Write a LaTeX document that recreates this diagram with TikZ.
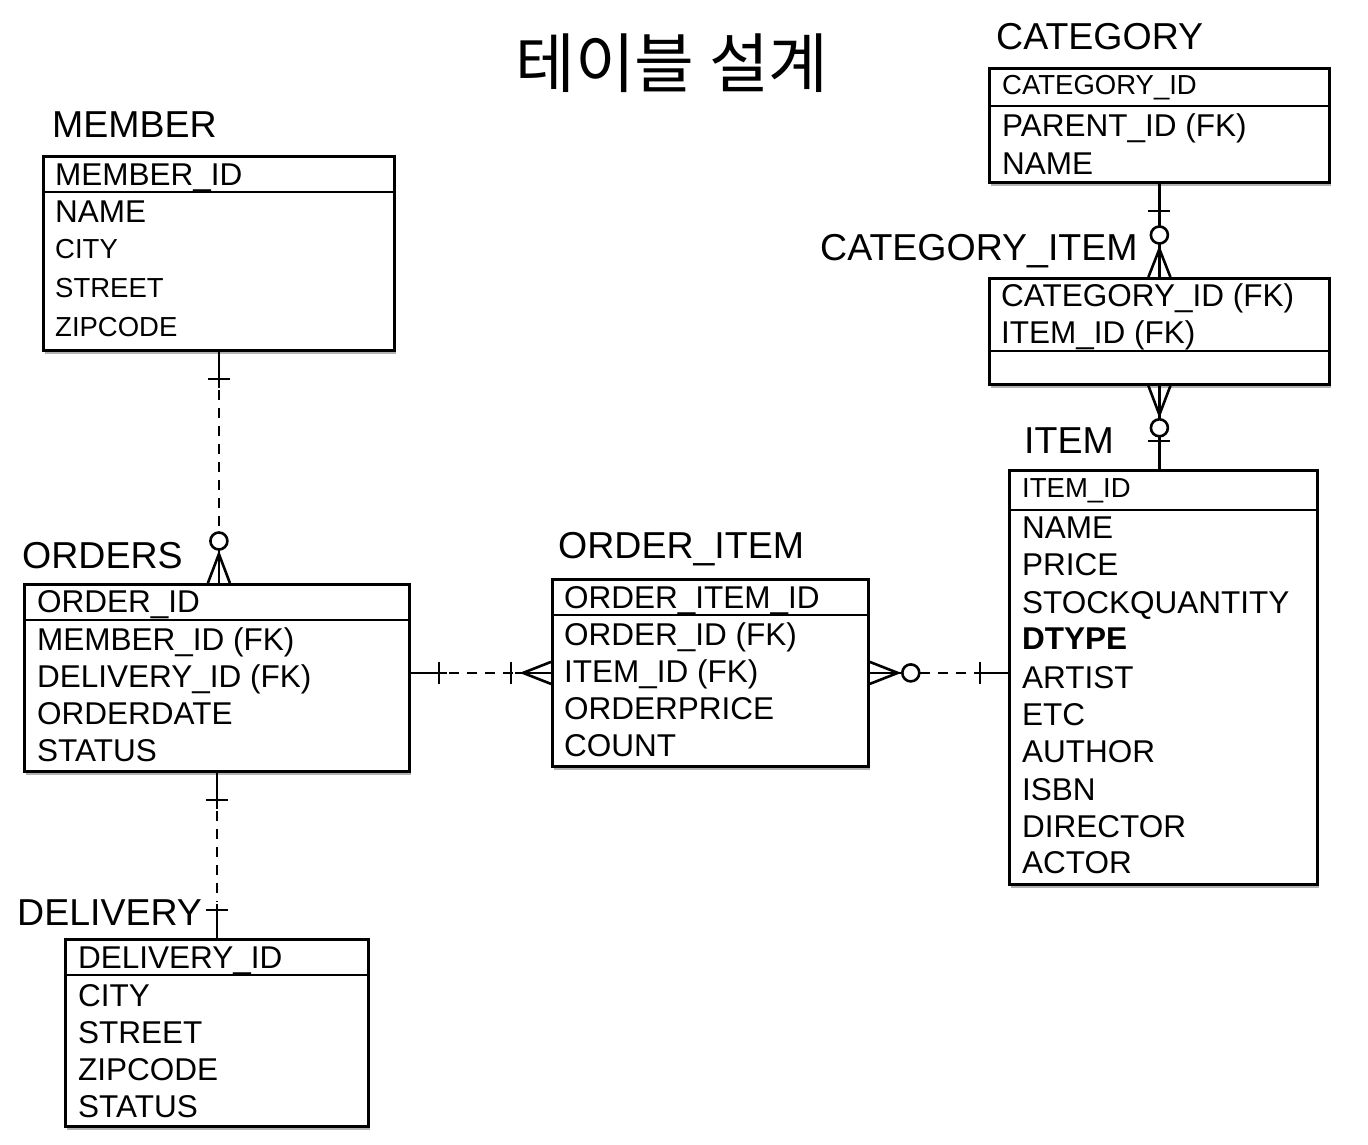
\documentclass[tikz,border=0pt]{standalone}
\usepackage{fontspec}
\setmainfont{Liberation Sans}
\newfontfamily\krfont{Noto Sans CJK KR}
\usepackage{tikz}
\usetikzlibrary{calc,shadows}

\newcommand{\headsize}{\fontsize{37.5}{45}\selectfont}
\newcommand{\fieldsize}{\fontsize{31.5}{38}\selectfont}
\newcommand{\smallsize}{\fontsize{27.5}{32}\selectfont}

\tikzset{
  tablebox/.style={draw, line width=2.8pt, fill=white, inner sep=0pt, anchor=north west,
    drop shadow={shadow xshift=2pt, shadow yshift=-3.5pt, opacity=0.5, fill=black!60}},
  tablename/.style={font=\headsize, anchor=base west, inner sep=0pt},
  field/.style={font=\fieldsize, anchor=base west, inner sep=0pt},
  smallfield/.style={font=\smallsize, anchor=base west, inner sep=0pt},
  divider/.style={line width=2.8pt},
  rel/.style={line width=2.6pt},
  reldash/.style={rel, dash pattern=on 10pt off 8pt},
  endcircle/.style={rel, fill=white},
}

\begin{document}
\begin{tikzpicture}[x=1pt, y=-1pt]
  \useasboundingbox (0,0) rectangle (1368,1145);

  % Title
  \node[font=\krfont\fontsize{65}{72}\selectfont, anchor=base, inner sep=0pt] (title) at (672,88) {테이블 설계};

  % MEMBER
  \node[tablename] (member-name) at (52,138) {MEMBER};
  \node[tablebox, minimum width=351, minimum height=194] (member) at (42,155) {};
  \draw[divider] ([yshift=-37pt]member.north west) -- ([yshift=-37pt]member.north east);
  \node[field] (member-id) at (55,185) {MEMBER\_ID};
  \node[field] (member-nm) at (55,222) {NAME};
  \node[smallfield] (member-city) at (55,258) {CITY};
  \node[smallfield] (member-st) at (55,297) {STREET};
  \node[smallfield] (member-zip) at (55,336) {ZIPCODE};

  % ORDERS
  \node[tablename] (orders-name) at (22,568) {ORDERS};
  \node[tablebox, minimum width=385, minimum height=187] (orders) at (23,583) {};
  \draw[divider] ([yshift=-37pt]orders.north west) -- ([yshift=-37pt]orders.north east);
  \node[field] (orders-id) at (37,612) {ORDER\_ID};
  \node[field] (orders-mem) at (37,650) {MEMBER\_ID (FK)};
  \node[field] (orders-del) at (37,687) {DELIVERY\_ID (FK)};
  \node[field] (orders-date) at (37,724) {ORDERDATE};
  \node[field] (orders-stat) at (37,761) {STATUS};

  % DELIVERY
  \node[tablename] (delivery-name) at (17,925) {DELIVERY};
  \node[tablebox, minimum width=303, minimum height=187] (delivery) at (64,938) {};
  \draw[divider] ([yshift=-37pt]delivery.north west) -- ([yshift=-37pt]delivery.north east);
  \node[field] (delivery-id) at (78,968) {DELIVERY\_ID};
  \node[field] (delivery-city) at (78,1006) {CITY};
  \node[field] (delivery-st) at (78,1043) {STREET};
  \node[field] (delivery-zip) at (78,1080) {ZIPCODE};
  \node[field] (delivery-stat) at (78,1117) {STATUS};

  % ORDER_ITEM
  \node[tablename] (oitem-name) at (558,558) {ORDER\_ITEM};
  \node[tablebox, minimum width=316, minimum height=187] (oitem) at (551,578) {};
  \draw[divider] ([yshift=-37pt]oitem.north west) -- ([yshift=-37pt]oitem.north east);
  \node[field] (oitem-id) at (564,608) {ORDER\_ITEM\_ID};
  \node[field] (oitem-ord) at (564,645) {ORDER\_ID (FK)};
  \node[field] (oitem-item) at (564,682) {ITEM\_ID (FK)};
  \node[field] (oitem-price) at (564,719) {ORDERPRICE};
  \node[field] (oitem-cnt) at (564,756) {COUNT};

  % CATEGORY
  \node[tablename] (cat-name) at (996,50) {CATEGORY};
  \node[tablebox, minimum width=340, minimum height=114] (cat) at (988,67) {};
  \draw[divider] ([yshift=-39pt]cat.north west) -- ([yshift=-39pt]cat.north east);
  \node[smallfield] (cat-id) at (1002,95) {CATEGORY\_ID};
  \node[field] (cat-par) at (1002,137) {PARENT\_ID (FK)};
  \node[field] (cat-nm) at (1002,175) {NAME};

  % CATEGORY_ITEM
  \node[tablename] (citem-name) at (820,260) {CATEGORY\_ITEM};
  \node[tablebox, minimum width=340, minimum height=106] (citem) at (988,277) {};
  \draw[divider] ([yshift=-74pt]citem.north west) -- ([yshift=-74pt]citem.north east);
  \node[field] (citem-cat) at (1001,306) {CATEGORY\_ID (FK)};
  \node[field] (citem-item) at (1001,343) {ITEM\_ID (FK)};

  % ITEM
  \node[tablename] (item-name) at (1024,453) {ITEM};
  \node[tablebox, minimum width=308, minimum height=414] (item) at (1008,469) {};
  \draw[divider] ([yshift=-41pt]item.north west) -- ([yshift=-41pt]item.north east);
  \node[smallfield] (item-id) at (1022,497) {ITEM\_ID};
  \node[field] (item-nm) at (1022,538) {NAME};
  \node[field] (item-price) at (1022,575) {PRICE};
  \node[field] (item-stock) at (1022,613) {STOCKQUANTITY};
  \node[field, font=\fieldsize\bfseries] (item-dtype) at (1022,649) {DTYPE};
  \node[field] (item-artist) at (1022,688) {ARTIST};
  \node[field] (item-etc) at (1022,725) {ETC};
  \node[field] (item-author) at (1022,762) {AUTHOR};
  \node[field] (item-isbn) at (1022,800) {ISBN};
  \node[field] (item-dir) at (1022,837) {DIRECTOR};
  \node[field] (item-actor) at (1022,873) {ACTOR};

  % MEMBER -- ORDERS (one to zero-or-many)
  \coordinate (mo-a) at (member.south);
  \coordinate (mo-b) at (mo-a |- orders.north);
  \draw[rel] (mo-a) -- ($(mo-a)+(0,36)$);
  \draw[reldash] ($(mo-a)+(0,38)$) -- ($(mo-b)+(0,-50)$);
  \draw[rel] ($(mo-b)+(0,-34)$) -- (mo-b);
  \draw[rel] ($(mo-a)+(-11,27)$) -- ++(22,0);
  \draw[endcircle] ($(mo-b)+(0,-42)$) circle[radius=8.5pt];
  \draw[rel] ($(mo-b)+(-11,0)$) -- ($(mo-b)+(0,-29)$) -- ($(mo-b)+(11,0)$);

  % ORDERS -- DELIVERY (one to one)
  \coordinate (od-a) at (orders.south);
  \coordinate (od-b) at (od-a |- delivery.north);
  \draw[rel] (od-a) -- ($(od-a)+(0,36)$);
  \draw[reldash] ($(od-a)+(0,38)$) -- ($(od-b)+(0,-36)$);
  \draw[rel] ($(od-b)+(0,-34)$) -- (od-b);
  \draw[rel] ($(od-a)+(-11,27)$) -- ++(22,0);
  \draw[rel] ($(od-b)+(-11,-28)$) -- ++(22,0);

  % ORDERS -- ORDER_ITEM (one to one-or-many)
  \coordinate (ooi-b) at (oitem.west);
  \coordinate (ooi-a) at (orders.east |- ooi-b);
  \draw[rel] (ooi-a) -- ($(ooi-a)+(36,0)$);
  \draw[reldash] ($(ooi-a)+(38,0)$) -- ($(ooi-b)+(-38,0)$);
  \draw[rel] ($(ooi-b)+(-36,0)$) -- (ooi-b);
  \draw[rel] ($(ooi-a)+(28,-11)$) -- ++(0,22);
  \draw[rel] ($(ooi-b)+(-40,-11)$) -- ++(0,22);
  \draw[rel] ($(ooi-b)+(0,-11)$) -- ($(ooi-b)+(-28,0)$) -- ($(ooi-b)+(0,11)$);

  % ORDER_ITEM -- ITEM (zero-or-many to one)
  \coordinate (oii-a) at (oitem.east);
  \coordinate (oii-b) at (item.west |- oii-a);
  \draw[rel] (oii-a) -- ($(oii-a)+(36,0)$);
  \draw[reldash] ($(oii-a)+(50,0)$) -- ($(oii-b)+(-28,0)$);
  \draw[rel] ($(oii-b)+(-28,0)$) -- (oii-b);
  \draw[rel] ($(oii-a)+(0,-11)$) -- ($(oii-a)+(28,0)$) -- ($(oii-a)+(0,11)$);
  \draw[endcircle] ($(oii-a)+(41,0)$) circle[radius=8.5pt];
  \draw[rel] ($(oii-b)+(-28,-11)$) -- ++(0,22);

  % CATEGORY -- CATEGORY_ITEM (one to zero-or-many)
  \coordinate (cc-a) at (cat.south);
  \coordinate (cc-b) at (cc-a |- citem.north);
  \draw[rel] (cc-a) -- (cc-b);
  \draw[rel] ($(cc-a)+(-11,27)$) -- ++(22,0);
  \draw[endcircle] ($(cc-b)+(0,-42)$) circle[radius=8.5pt];
  \draw[rel] ($(cc-b)+(-11,0)$) -- ($(cc-b)+(0,-28)$) -- ($(cc-b)+(11,0)$);

  % CATEGORY_ITEM -- ITEM (zero-or-many to one)
  \coordinate (ci-a) at (citem.south);
  \coordinate (ci-b) at (ci-a |- item.north);
  \draw[rel] (ci-a) -- (ci-b);
  \draw[rel] ($(ci-a)+(-11,0)$) -- ($(ci-a)+(0,29)$) -- ($(ci-a)+(11,0)$);
  \draw[endcircle] ($(ci-a)+(0,42)$) circle[radius=8.5pt];
  \draw[rel] ($(ci-b)+(-11,-28)$) -- ++(22,0);
\end{tikzpicture}
\end{document}
